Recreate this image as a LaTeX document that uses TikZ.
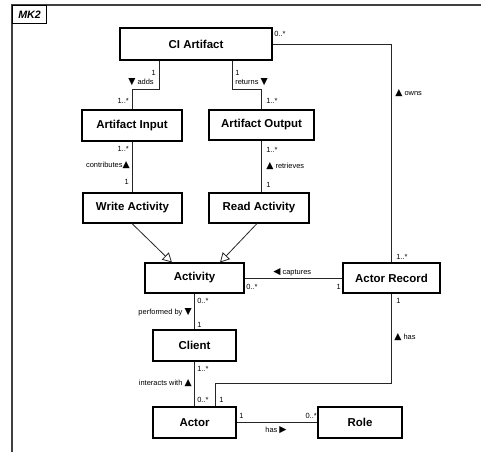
\documentclass[tikz,border=0pt]{standalone}
\usepackage{fontspec}
\setmainfont{Liberation Sans}
\newfontfamily\symf{DejaVu Sans}
\usetikzlibrary{arrows.meta}
\newcommand{\dn}{{\symf\scriptsize ▼}}
\newcommand{\up}{{\symf\scriptsize ▲}}
\newcommand{\lf}{{\symf\scriptsize ◀}}
\newcommand{\rt}{{\symf\scriptsize ▶}}
\begin{document}
\begin{tikzpicture}[x=0.75pt,y=-0.75pt,
  box/.style={draw,line width=0.8pt,fill=white,inner sep=0pt,font=\fontsize{8.6}{10}\selectfont\bfseries},
  conn/.style={line width=0.6pt,draw=black!85},
  gen/.style={conn,-{Triangle[open,length=7pt,width=7.5pt,fill=white]}},
  lbl/.style={inner sep=0pt,font=\fontsize{5.6}{6.5}\selectfont}]
\useasboundingbox (0,0) rectangle (481,452);
% frame
\draw[line width=1pt,black!75] (481,5) -- (12,5) -- (12,452);
\node[draw,line width=0.9pt,minimum width=25.5pt,minimum height=13.5pt,inner sep=0pt,anchor=north west,font=\fontsize{8}{9}\selectfont\bfseries\itshape] (mk) at (12,5) {MK2};
% nodes
\node[box,minimum width=114pt,minimum height=24pt] (ci) at (196,44) {CI Artifact};
\node[box,minimum width=75pt,minimum height=23.25pt] (ain) at (132,125.5) {Artifact Input};
\node[box,minimum width=78.75pt,minimum height=22.5pt] (aout) at (261.5,125) {Artifact Output};
\node[box,minimum width=74.25pt,minimum height=22.5pt] (wa) at (132.5,208) {Write Activity};
\node[box,minimum width=75pt,minimum height=22.5pt] (ra) at (259,208) {Read Activity};
\node[box,minimum width=74.25pt,minimum height=22.5pt] (act) at (194.5,278) {Activity};
\node[box,minimum width=72.75pt,minimum height=22.5pt] (ar) at (391.5,278) {Actor Record};
\node[box,minimum width=62.25pt,minimum height=23.25pt] (cl) at (194.5,345.5) {Client};
\node[box,minimum width=62.25pt,minimum height=23.25pt] (actor) at (194.5,422.5) {Actor};
\node[box,minimum width=63pt,minimum height=23.25pt] (role) at (360,422.5) {Role};
% connectors
\draw[conn] ([xshift=-27.75pt]ci.south) -- ++(0,29) -| (ain.north);
\draw[conn] ([xshift=27pt]ci.south) -- ++(0,29) -| (aout.north);
\draw[conn] (ci.east) -| (ar.north);
\draw[conn] (ain.south) -- (ain.south |- wa.north);
\draw[conn] (aout.south) -- (aout.south |- ra.north);
\draw[gen] ([xshift=-0.4pt]wa.south) -- ([xshift=-16.9pt]act.north);
\draw[gen] ([xshift=-1.5pt]ra.south) -- ([xshift=19.1pt]act.north);
\draw[conn] (act.east) -- (ar.west);
\draw[conn] (act.south) -- (cl.north);
\draw[conn] (cl.south) -- (actor.north);
\draw[conn] (ar.south) -- ++(0,90) -| ([xshift=15.4pt]actor.north);
\draw[conn] (actor.east) -- (role.west);
% labels
\node[lbl,anchor=east] (l1) at (156,73) {1};
\node[lbl,anchor=east] (l2) at (154,82) {\dn\ adds};
\node[lbl,anchor=east] (l3) at (129,101) {1..*};
\node[lbl,anchor=west] (l4) at (235,73) {1};
\node[lbl,anchor=west] (l5) at (235,82) {returns \dn};
\node[lbl,anchor=west] (l6) at (266,101) {1..*};
\node[lbl,anchor=west] (l7) at (274,34) {0..*};
\node[lbl,anchor=west] (l8) at (395,93) {\up\ owns};
\node[lbl,anchor=west] (l9) at (396,257) {1..*};
\node[lbl,anchor=east] (l10) at (129,149) {1..*};
\node[lbl,anchor=east] (l11) at (130,165) {contributes\up};
\node[lbl,anchor=east] (l12) at (129,182) {1};
\node[lbl,anchor=west] (l13) at (266,150) {1..*};
\node[lbl,anchor=west] (l14) at (266,166) {\up\ retrieves};
\node[lbl,anchor=west] (l15) at (266,185) {1};
\node[lbl,anchor=west] (l16) at (273,272) {\lf\ captures};
\node[lbl,anchor=west] (l17) at (246,287) {0..*};
\node[lbl,anchor=east] (l18) at (341,287) {1};
\node[lbl,anchor=west] (l19) at (197,301) {0..*};
\node[lbl,anchor=east] (l20) at (192,312) {performed by \dn};
\node[lbl,anchor=west] (l21) at (197,325) {1};
\node[lbl,anchor=west] (l22) at (396,301) {1};
\node[lbl,anchor=west] (l23) at (394,337) {\up\ has};
\node[lbl,anchor=west] (l24) at (197,369) {1..*};
\node[lbl,anchor=east] (l25) at (192,383) {interacts with \up};
\node[lbl,anchor=west] (l26) at (197,400) {0..*};
\node[lbl,anchor=west] (l27) at (219,400) {1};
\node[lbl,anchor=west] (l28) at (239,416) {1};
\node[lbl,anchor=east] (l29) at (317,416) {0..*};
\node[lbl] (l30) at (276,430) {has \rt};
\end{tikzpicture}
\end{document}
